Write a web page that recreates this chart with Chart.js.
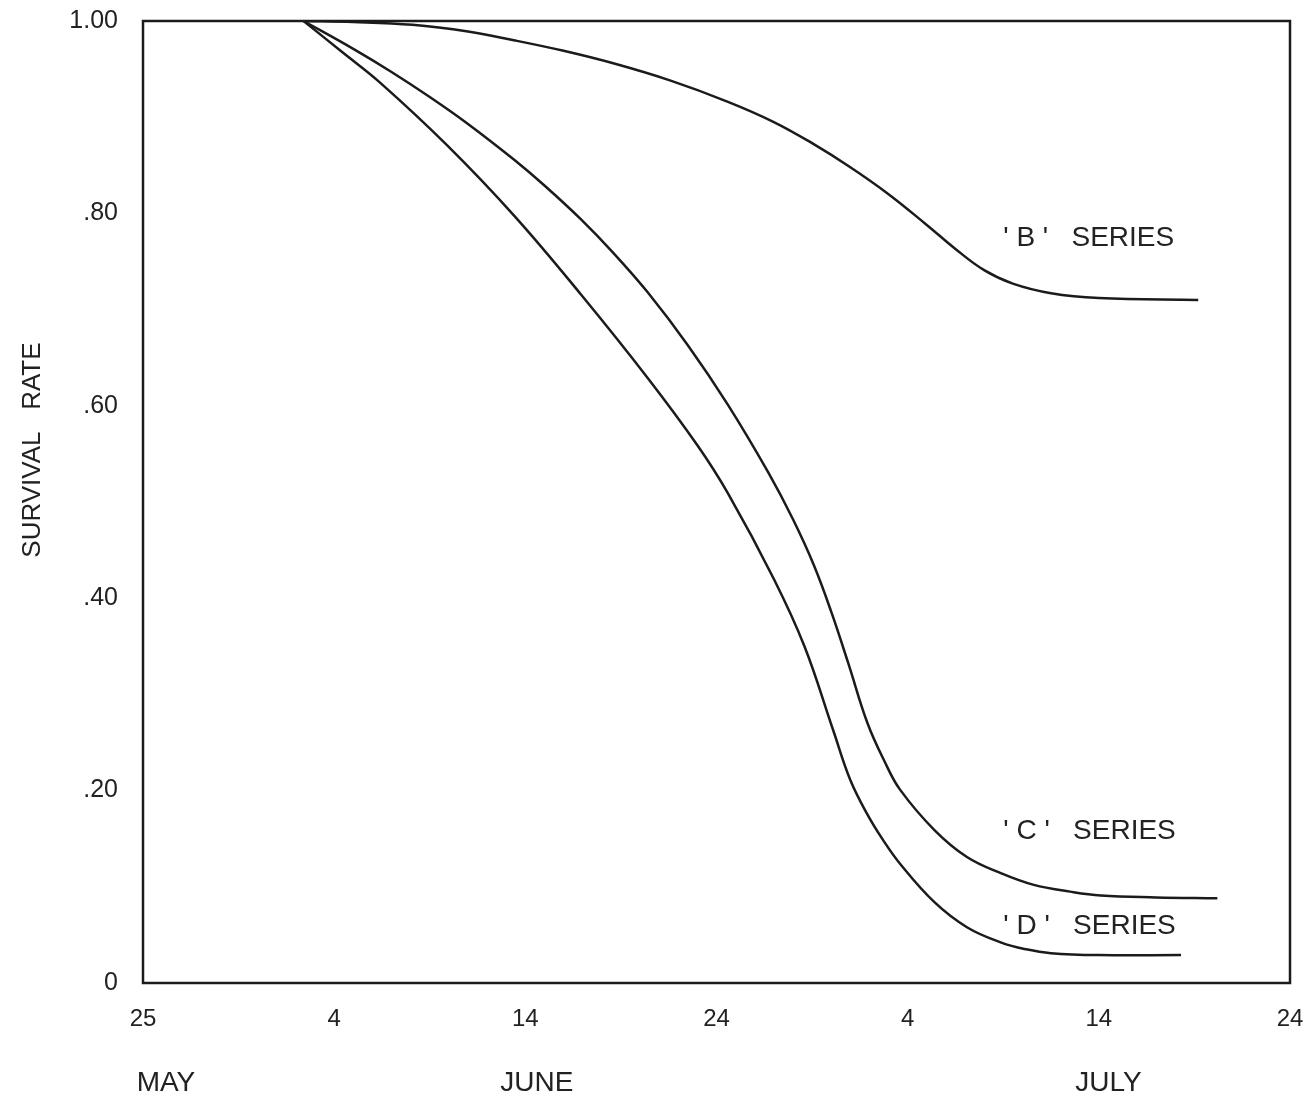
<!DOCTYPE html>
<html>
<head>
<meta charset="utf-8">
<script src="https://cdn.jsdelivr.net/npm/chart.js@4.4.0/dist/chart.umd.min.js"></script>
<style>
  html, body { margin: 0; padding: 0; background: #fff; }
  #wrap { width: 1315px; height: 1104px; }
</style>
</head>
<body>
<div id="wrap"><canvas id="survival-chart" width="1315" height="1104"></canvas></div>
<script>
// days counted from 25 May
let xTickLabels = ["25", "4", "14", "24", "4", "14", "24"];
let yTickLabels = ["0", ".20", ".40", ".60", ".80", "1.00"];
let monthNames = ["MAY", "JUNE", "JULY"];
let monthDays = [1.2, 20.6, 50.5];

let bDays = [8.4, 11, 14.1, 17, 19.4, 22, 24.6, 27.6, 30.6, 33, 35, 37, 39, 41, 42.5, 44, 45.5, 47.5, 50, 55.2];
let bRate = [1.0, 0.999, 0.996, 0.989, 0.980, 0.969, 0.956, 0.938, 0.916, 0.895, 0.873, 0.848, 0.820, 0.788, 0.763, 0.741, 0.727, 0.717, 0.712, 0.710];

let cDays = [8.4, 11, 13, 15, 17, 19.4, 21, 22.9, 24.6, 26.4, 28.5, 30.6, 32.7, 34.0, 35.1, 36.0, 36.9, 37.9, 38.8, 39.6, 41.4, 43.1, 44.9, 46.6, 48.5, 50.1, 53, 56.2];
let cRate = [1.0, 0.971, 0.947, 0.921, 0.893, 0.856, 0.829, 0.794, 0.759, 0.718, 0.663, 0.601, 0.531, 0.482, 0.434, 0.386, 0.332, 0.270, 0.230, 0.201, 0.159, 0.131, 0.114, 0.102, 0.095, 0.091, 0.089, 0.088];

let dDays = [8.4, 10.4, 12.4, 15.9, 19.4, 22.9, 26.4, 29.0, 30.6, 33.0, 34.6, 36.1, 37.0, 37.9, 38.7, 39.6, 41.4, 43.1, 44.9, 46.2, 47.5, 50, 54.3];
let dRate = [1.0, 0.968, 0.936, 0.871, 0.798, 0.716, 0.629, 0.559, 0.509, 0.420, 0.350, 0.263, 0.211, 0.175, 0.149, 0.124, 0.084, 0.058, 0.042, 0.035, 0.031, 0.029, 0.029];

let seriesNames = ["' B '   SERIES", "' C '   SERIES", "' D '   SERIES"];
let yTitle = "SURVIVAL   RATE";

// where the series names sit (day, rate)
let namePlaces = [[45.0, 0.774], [45.0, 0.158], [45.0, 0.059]];

const ink = "#1b1b1b";
const fontFamily = "'Liberation Sans', Arial, sans-serif";
Chart.defaults.font.family = fontFamily;
Chart.defaults.color = "#222";

function points(days, rates) {
    return days.map((d, i) => ({ x: d, y: rates[i] }));
}

function lineSet(days, rates) {
    return {
        data: points(days, rates),
        borderColor: ink,
        borderWidth: 2.5,
        pointRadius: 0,
        fill: false,
        tension: 0.4
    };
}

// no extra room for the end labels, the plot box is placed by layout padding
function noLabelRoom(s) {
    s.paddingTop = 0;
    s.paddingBottom = 0;
    s.paddingLeft = 0;
    s.paddingRight = 0;
}

let framePlugin = {
    id: "frame",
    afterDatasetsDraw(chart) {
        const a = chart.chartArea;
        const ctx = chart.ctx;
        ctx.save();
        ctx.strokeStyle = ink;
        ctx.lineWidth = 2.5;
        ctx.strokeRect(a.left, a.top, a.right - a.left, a.bottom - a.top);
        ctx.restore();
    }
};

let namesPlugin = {
    id: "seriesNames",
    afterDraw(chart) {
        const ctx = chart.ctx;
        const xs = chart.scales.x, ys = chart.scales.y;
        ctx.save();
        ctx.fillStyle = "#222";
        ctx.font = "28px " + fontFamily;
        ctx.textAlign = "left";
        ctx.textBaseline = "middle";
        seriesNames.forEach((name, i) => {
            ctx.fillText(name, xs.getPixelForValue(namePlaces[i][0]), ys.getPixelForValue(namePlaces[i][1]));
        });
        // y axis title, sits a little above the middle in the original
        ctx.translate(chart.chartArea.left - 110, ys.getPixelForValue(0.554));
        ctx.rotate(-Math.PI / 2);
        ctx.textAlign = "center";
        ctx.font = "26px " + fontFamily;
        ctx.fillText(yTitle, 0, 0);
        ctx.restore();
    }
};

let chart = new Chart(document.getElementById("survival-chart"), {
    type: "line",
    data: {
        datasets: [
            lineSet(bDays, bRate),
            lineSet(cDays, cRate),
            lineSet(dDays, dRate)
        ]
    },
    options: {
        responsive: false,
        animation: false,
        devicePixelRatio: 1,
        layout: { padding: { top: 21, right: 25, bottom: 0, left: 0 } },
        plugins: {
            legend: { display: false },
            tooltip: { enabled: false }
        },
        scales: {
            x: {
                type: "linear",
                position: "bottom",
                weight: 0,
                min: 0,
                max: 60,
                afterFit: (s) => { s.height = 60; noLabelRoom(s); },
                grid: { display: false, drawTicks: false },
                border: { display: false },
                ticks: {
                    stepSize: 10,
                    padding: 22,
                    maxRotation: 0,
                    font: { size: 24 },
                    callback: (v) => xTickLabels[Math.round(v / 10)]
                }
            },
            month: {
                type: "linear",
                position: "bottom",
                weight: 1,
                min: 0,
                max: 60,
                afterFit: (s) => { s.height = 61; noLabelRoom(s); },
                afterBuildTicks: (s) => { s.ticks = monthDays.map((v) => ({ value: v })); },
                grid: { display: false, drawTicks: false },
                border: { display: false },
                ticks: {
                    autoSkip: false,
                    padding: 23,
                    maxRotation: 0,
                    font: { size: 28 },
                    callback: (v, i) => monthNames[i]
                }
            },
            y: {
                min: 0,
                max: 1,
                afterFit: (s) => { s.width = 143; noLabelRoom(s); },
                grid: { display: false, drawTicks: false },
                border: { display: false },
                ticks: {
                    stepSize: 0.2,
                    padding: 25,
                    font: { size: 25 },
                    callback: (v, i) => yTickLabels[i]
                }
            }
        }
    },
    plugins: [framePlugin, namesPlugin]
});
</script>
</body>
</html>
